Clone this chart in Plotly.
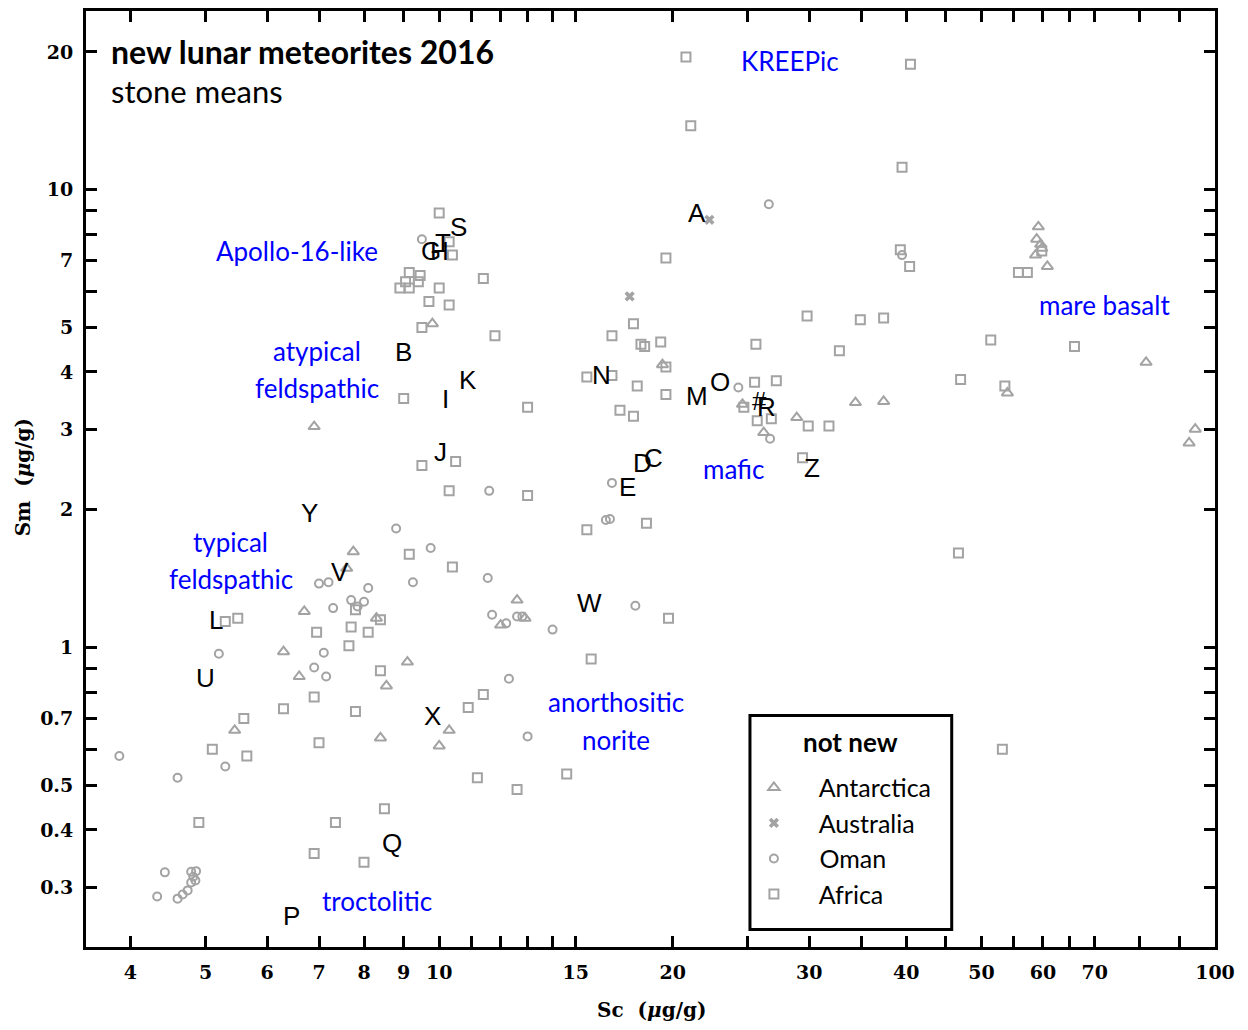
import numpy as np
import plotly.graph_objects as go

# ---------------- data (Sc, Sm in ug/g) ----------------
africa_sc = [20.8, 40.5, 21.1, 39.5, 10.0,
             10.3, 10.4, 9.15, 9.45, 9.4, 9.05, 8.9, 9.15, 10.0, 11.4, 9.7, 10.3, 9.5, 11.8,
             19.6, 9.0, 13.0, 9.5, 10.5, 10.3, 13.0, 9.15, 10.4,
             5.3, 5.5, 6.95, 7.7, 8.1, 7.65, 7.8, 8.4, 8.4, 6.9, 7.8, 6.3, 5.6, 5.1, 5.65, 7.0,
             10.9, 11.2, 4.9, 7.35, 8.5, 6.9, 8.0,
             15.5, 18.5, 19.75, 15.7, 11.4, 12.6, 14.6,
             17.8, 16.7, 18.2, 18.4, 19.3, 15.5, 16.7, 18.0, 19.6, 19.6, 17.1, 17.8,
             25.6, 25.5, 27.2, 25.7, 26.8, 29.8, 29.9, 31.8, 29.4, 24.7,
             39.3, 40.4, 59.8, 55.8, 57.3, 34.9, 37.4, 51.4, 65.9, 32.8, 47.0, 53.6,
             46.7, 53.2]
africa_sm = [19.5, 18.8, 13.8, 11.2, 8.9,
             7.7, 7.2, 6.6, 6.5, 6.3, 6.3, 6.1, 6.1, 6.1, 6.4, 5.7, 5.6, 5.0, 4.8,
             7.1, 3.5, 3.35, 2.5, 2.55, 2.2, 2.15, 1.6, 1.5,
             1.14, 1.16, 1.08, 1.11, 1.08, 1.01, 1.21, 1.15, 0.89, 0.78, 0.725, 0.735, 0.70, 0.60, 0.58, 0.62,
             0.74, 0.52, 0.415, 0.415, 0.445, 0.355, 0.34,
             1.81, 1.87, 1.16, 0.945, 0.79, 0.49, 0.53,
             5.1, 4.8, 4.6, 4.55, 4.65, 3.9, 3.93, 3.73, 3.57, 4.1, 3.3, 3.2,
             4.6, 3.8, 3.83, 3.13, 3.16, 5.3, 3.05, 3.05, 2.6, 3.35,
             7.4, 6.8, 7.35, 6.6, 6.6, 5.2, 5.25, 4.7, 4.55, 4.45, 3.85, 3.73,
             1.61, 0.60]

antarctica_sc = [9.8, 19.4, 24.6, 26.2, 28.9, 34.4, 37.4,
                 59.2, 58.9, 59.6, 59.8, 58.7, 60.8,
                 81.5, 54.0, 94.3, 92.6, 6.9,
                 7.75, 7.6, 6.7, 8.3, 6.3, 6.6, 9.1, 8.55, 5.45, 8.4, 10.3, 10.0,
                 12.6, 12.0, 12.9]
antarctica_sm = [5.1, 4.15, 3.4, 2.95, 3.18, 3.43, 3.45,
                 8.3, 7.8, 7.6, 7.45, 7.2, 6.8,
                 4.2, 3.6, 3.0, 2.8, 3.04,
                 1.62, 1.49, 1.2, 1.16, 0.98, 0.865, 0.93, 0.825, 0.66, 0.635, 0.66, 0.61,
                 1.27, 1.12, 1.16]

australia_sc = [22.3, 17.6]
australia_sm = [8.6, 5.85]

oman_sc = [9.5, 26.6, 39.5, 24.3, 26.7, 11.6, 16.7, 16.4, 16.6,
           8.8, 9.75, 9.25, 11.55, 17.9, 11.7, 12.2, 12.6, 12.8, 14.0, 12.3, 13.0,
           7.0, 7.2, 8.1, 7.7, 8.0, 7.3, 7.85, 5.2, 7.1, 6.9, 7.15, 5.3, 4.6, 3.87,
           4.43, 4.33, 4.6, 4.67, 4.74, 4.79, 4.85, 4.79, 4.86, 4.82]
oman_sm = [7.8, 9.3, 7.2, 3.7, 2.86, 2.2, 2.29, 1.9, 1.91,
           1.82, 1.65, 1.39, 1.42, 1.235, 1.18, 1.13, 1.17, 1.17, 1.095, 0.855, 0.64,
           1.38, 1.39, 1.35, 1.27, 1.26, 1.22, 1.23, 0.97, 0.975, 0.905, 0.865, 0.55, 0.52, 0.58,
           0.323, 0.286, 0.283, 0.289, 0.295, 0.307, 0.31, 0.324, 0.325, 0.316]

# new lunar meteorites (letters)
new_labels = ["A", "S", "G", "H", "T", "B", "K", "I", "J", "N", "M", "O", "#", "R",
              "D", "C", "E", "Z", "Y", "V", "W", "L", "U", "X", "Q", "P"]
new_sc = [21.5, 10.6, 9.75, 10.0, 10.1, 9.0, 10.9, 10.2, 10.05, 16.2, 21.5, 23.0, 25.9, 26.4,
          18.3, 18.9, 17.5, 30.2, 6.8, 7.45, 15.6, 5.15, 5.0, 9.8, 8.7, 6.45]
new_sm = [8.9, 8.3, 7.35, 7.35, 7.65, 4.43, 3.85, 3.5, 2.67, 3.95, 3.55, 3.8, 3.45, 3.35,
          2.53, 2.6, 2.24, 2.47, 1.97, 1.46, 1.25, 1.15, 0.86, 0.71, 0.375, 0.26]

# compositional-field labels
field_labels = ["KREEPic", "Apollo-16-like", "mare basalt", "atypical", "feldspathic", "mafic",
                "typical", "feldspathic", "anorthositic", "norite", "troctolitic"]
field_sc = [28.3, 6.55, 72.0, 6.95, 6.95, 23.95, 5.39, 5.39, 16.9, 16.9, 8.32]
field_sm = [19.1, 7.36, 5.61, 4.45, 3.70, 2.46, 1.70, 1.41, 0.762, 0.63, 0.279]

legend_names = ["Antarctica", "Australia", "Oman", "Africa"]

x_tickvals = [4, 5, 6, 7, 8, 9, 10, 11, 12, 13, 14, 15, 20, 25, 30, 35, 40, 45, 50, 55, 60, 65, 70, 80, 90, 100]
x_ticktext = ["4", "5", "6", "7", "8", "9", "10", "", "", "", "", "15", "20", "", "30", "", "40", "", "50", "",
              "60", "", "70", "", "", "100"]
y_tickvals = [0.3, 0.4, 0.5, 0.6, 0.7, 0.8, 0.9, 1, 2, 3, 4, 5, 6, 7, 8, 9, 10, 20]
y_ticktext = ["0.3", "0.4", "0.5", "", "0.7", "", "", "1", "2", "3", "4", "5", "", "7", "", "", "10", "20"]

GRAY = "#a3a3a3"
SANS = "Lato"
PAD = "&nbsp;" * 4

fig = go.Figure()

fig.add_trace(go.Scatter(x=antarctica_sc, y=antarctica_sm, mode="markers", name=PAD + legend_names[0],
                         legendgroup="g1",
                         marker=dict(symbol="triangle-up-open", size=10, color=GRAY, line=dict(width=2, color=GRAY))))
fig.add_trace(go.Scatter(x=australia_sc, y=australia_sm, mode="markers", name=PAD + legend_names[1],
                         legendgroup="g2",
                         marker=dict(symbol="x", size=9, color=GRAY, line=dict(width=0))))
fig.add_trace(go.Scatter(x=oman_sc, y=oman_sm, mode="markers", name=PAD + legend_names[2],
                         legendgroup="g3",
                         marker=dict(symbol="circle-open", size=8, color=GRAY, line=dict(width=2, color=GRAY))))
fig.add_trace(go.Scatter(x=africa_sc, y=africa_sm, mode="markers", name=PAD + legend_names[3],
                         legendgroup="g4",
                         marker=dict(symbol="square-open", size=9, color=GRAY, line=dict(width=2, color=GRAY))))

# letter labels of the new meteorites (annotations on the log axes use log10 positions)
for lab, sx, sy in zip(new_labels, new_sc, new_sm):
    fig.add_annotation(x=np.log10(sx), y=np.log10(sy), xref="x", yref="y", text=lab, showarrow=False,
                       xanchor="center", yanchor="middle",
                       font=dict(family="Liberation Sans", size=26, color="black"))

# compositional field names
for lab, sx, sy in zip(field_labels, field_sc, field_sm):
    fig.add_annotation(x=np.log10(sx), y=np.log10(sy), xref="x", yref="y", text=lab, showarrow=False,
                       xanchor="center", yanchor="middle",
                       font=dict(family=SANS, size=26, color="#0000ff"))

axis_common = dict(type="log", showline=True, linewidth=3, linecolor="black", mirror="allticks",
                   ticks="inside", ticklen=11, tickwidth=3, tickcolor="black", showgrid=False,
                   zeroline=False,
                   tickfont=dict(family="DejaVu Serif", size=19, color="black", weight="bold"))

fig.update_xaxes(range=[0.54475, 2.0], tickmode="array", tickvals=x_tickvals, ticktext=x_ticktext,
                 ticklabelstandoff=6, **axis_common)
fig.update_yaxes(range=[-0.6538, 1.3905], tickmode="array", tickvals=y_tickvals, ticktext=y_ticktext,
                 ticklabelstandoff=6, **axis_common)

# titles
fig.add_annotation(xref="paper", yref="paper", x=0.0208, y=0.9562, xanchor="left", yanchor="middle",
                   text="<b>new lunar meteorites 2016</b>", showarrow=False,
                   font=dict(family=SANS, size=32, color="black"))
fig.add_annotation(xref="paper", yref="paper", x=0.0208, y=0.9146, xanchor="left", yanchor="middle",
                   text="stone means", showarrow=False,
                   font=dict(family=SANS, size=31, color="black"))
fig.add_annotation(xref="paper", yref="paper", x=0.5013, y=-0.0678, xanchor="center", yanchor="middle",
                   text="<b>Sc&nbsp;&nbsp;(<i>μ</i>g/g)</b>", showarrow=False,
                   font=dict(family="DejaVu Serif", size=20, color="black"))
fig.add_annotation(xref="paper", yref="paper", x=-0.0562, y=0.5013, xanchor="center", yanchor="middle",
                   text="<b>Sm&nbsp;&nbsp;(<i>μ</i>g/g)</b>", showarrow=False, textangle=-90,
                   font=dict(family="DejaVu Serif", size=20, color="black"))

# legend frame + title
fig.add_shape(type="rect", xref="paper", yref="paper", x0=0.5881, x1=0.7668, y0=0.01869, y1=0.2472,
              line=dict(color="black", width=3), fillcolor="white", layer="above")
fig.add_annotation(xref="paper", yref="paper", x=0.6774, y=0.2194, xanchor="center", yanchor="middle",
                   text="<b>not new</b>", showarrow=False,
                   font=dict(family=SANS, size=26, color="black"))

fig.update_layout(
    width=1232, height=1014,
    margin=dict(l=77.5, r=24.5, t=3, b=74.5, autoexpand=False),
    paper_bgcolor="white", plot_bgcolor="white",
    legend=dict(x=0.5916, y=0.1948, xanchor="left", yanchor="top",
                bgcolor="rgba(0,0,0,0)", borderwidth=0,
                font=dict(family=SANS, size=25, color="black"),
                itemwidth=30, tracegroupgap=0),
)

fig.write_html("out.html")
